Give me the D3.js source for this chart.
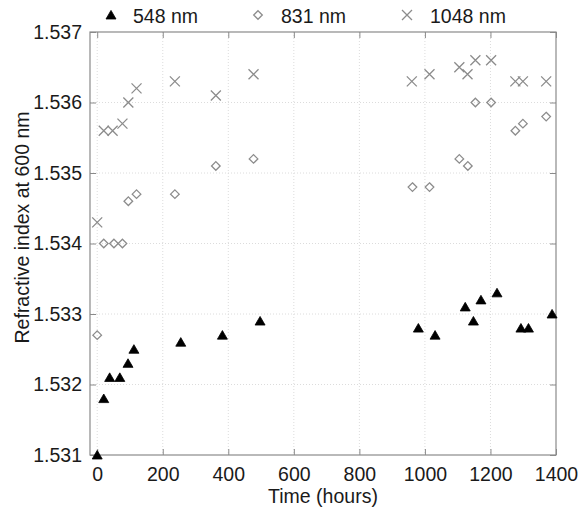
<!DOCTYPE html>
<html>
<head>
<meta charset="utf-8">
<script src="https://cdn.jsdelivr.net/npm/d3@7"></script>
<style>
  html, body { margin: 0; padding: 0; background: #fff; }
  svg { display: block; }
  text { font-family: "Liberation Sans", Arial, sans-serif; fill: #1a1a1a; }
</style>
</head>
<body>
<svg id="chart" width="584" height="514"></svg>
<script>
// Refractive index at 600 nm over time, for three writing wavelengths
const series548Time  = [0, 20, 38, 69, 94, 112, 255, 382, 497, 980, 1031, 1123, 1148, 1171, 1220, 1293, 1316, 1388];
const series548Value = [1.5310, 1.5318, 1.5321, 1.5321, 1.5323, 1.5325, 1.5326, 1.5327, 1.5329,
                        1.5328, 1.5327, 1.5331, 1.5329, 1.5332, 1.5333, 1.5328, 1.5328, 1.5330];

const series831Time  = [0, 20, 51, 77, 95, 120, 237, 362, 477, 962, 1014, 1105, 1131, 1154, 1202, 1276, 1299, 1370];
const series831Value = [1.5327, 1.5340, 1.5340, 1.5340, 1.5346, 1.5347, 1.5347, 1.5351, 1.5352,
                        1.5348, 1.5348, 1.5352, 1.5351, 1.5360, 1.5360, 1.5356, 1.5357, 1.5358];

const series1048Time  = [0, 20, 47, 77, 95, 120, 237, 362, 477, 960, 1014, 1105, 1130, 1154, 1202, 1276, 1299, 1370];
const series1048Value = [1.5343, 1.5356, 1.5356, 1.5357, 1.5360, 1.5362, 1.5363, 1.5361, 1.5364,
                         1.5363, 1.5364, 1.5365, 1.5364, 1.5366, 1.5366, 1.5363, 1.5363, 1.5363];

const legendLabels = ["548 nm", "831 nm", "1048 nm"];
const xTicks = [0, 200, 400, 600, 800, 1000, 1200, 1400];
const yTicks = [1.531, 1.532, 1.533, 1.534, 1.535, 1.536, 1.537];
const xTitle = "Time (hours)";
const yTitle = "Refractive index at 600 nm";

const svg = d3.select("#chart");
const plot = { left: 90, right: 556, top: 32, bottom: 455 };

const x = d3.scaleLinear().domain([-22, 1400]).range([plot.left, plot.right]);
const y = d3.scaleLinear().domain([1.531, 1.537]).range([plot.bottom, plot.top]);

const frameColor = "#8a8a8a";
const gridColor = "#dcdcdc";
const markerGray = "#8c8c8c";
const fontSize = 19.5;

// dotted grid
const grid = svg.append("g");
grid.selectAll("line.vx").data(xTicks.filter(d => x(d) < plot.right - 1)).join("line")
  .attr("x1", d => x(d)).attr("x2", d => x(d))
  .attr("y1", plot.top).attr("y2", plot.bottom)
  .attr("stroke", gridColor).attr("stroke-width", 1).attr("stroke-dasharray", "1,2");
grid.selectAll("line.hy").data(yTicks.filter(d => y(d) > plot.top + 1 && y(d) < plot.bottom - 1)).join("line")
  .attr("x1", plot.left).attr("x2", plot.right)
  .attr("y1", d => y(d)).attr("y2", d => y(d))
  .attr("stroke", gridColor).attr("stroke-width", 1).attr("stroke-dasharray", "1,2");

// axes with inward ticks on all four sides
const tickLen = 6;
const bottomAxis = d3.axisBottom(x).tickValues(xTicks).tickSize(-tickLen).tickPadding(12).tickFormat(d3.format("d"));
const topAxis = d3.axisTop(x).tickValues(xTicks).tickSize(-tickLen).tickFormat("");
const leftAxis = d3.axisLeft(y).tickValues(yTicks).tickSize(-tickLen).tickPadding(8).tickFormat(d3.format(".3f"));
const rightAxis = d3.axisRight(y).tickValues(yTicks).tickSize(-tickLen).tickFormat("");

function styleAxis(g) {
  g.select(".domain").remove();
  g.selectAll(".tick line").attr("stroke", frameColor).attr("stroke-width", 1);
  g.selectAll(".tick text").attr("font-size", fontSize).attr("fill", "#1a1a1a")
    .attr("font-family", "'Liberation Sans', Arial, sans-serif");
}

svg.append("g").attr("transform", `translate(0,${plot.bottom})`).call(bottomAxis).call(styleAxis);
svg.append("g").attr("transform", `translate(0,${plot.top})`).call(topAxis).call(styleAxis);
svg.append("g").attr("transform", `translate(${plot.left},0)`).call(leftAxis).call(styleAxis);
svg.append("g").attr("transform", `translate(${plot.right},0)`).call(rightAxis).call(styleAxis);

// frame
svg.append("rect")
  .attr("x", plot.left).attr("y", plot.top)
  .attr("width", plot.right - plot.left).attr("height", plot.bottom - plot.top)
  .attr("fill", "none").attr("stroke", frameColor).attr("stroke-width", 1.2);

// marker drawers
const triPath = "M0,-4.6L5,4L-5,4Z";
const diaPath = "M0,-4.3L4.3,0L0,4.3L-4.3,0Z";
const crossPath = "M-5,-5L5,5M-5,5L5,-5";

function drawTri(g, cx, cy) {
  g.append("path").attr("d", triPath).attr("transform", `translate(${cx},${cy})`)
    .attr("fill", "#000").attr("stroke", "#000").attr("stroke-width", 0.8);
}
function drawDia(g, cx, cy) {
  g.append("path").attr("d", diaPath).attr("transform", `translate(${cx},${cy})`)
    .attr("fill", "none").attr("stroke", markerGray).attr("stroke-width", 1.3);
}
function drawCross(g, cx, cy) {
  g.append("path").attr("d", crossPath).attr("transform", `translate(${cx},${cy})`)
    .attr("fill", "none").attr("stroke", markerGray).attr("stroke-width", 1.3);
}

const marks = svg.append("g");
series1048Time.forEach((t, i) => drawCross(marks, x(t), y(series1048Value[i])));
series831Time.forEach((t, i) => drawDia(marks, x(t), y(series831Value[i])));
series548Time.forEach((t, i) => drawTri(marks, x(t), y(series548Value[i])));

// legend across the top
const legend = svg.append("g");
const legendItems = [
  { mx: 111, tx: 133, draw: drawTri },
  { mx: 258, tx: 281, draw: drawDia },
  { mx: 407, tx: 430, draw: drawCross }
];
legendItems.forEach((item, i) => {
  item.draw(legend, item.mx, 15);
  legend.append("text").attr("x", item.tx).attr("y", 23)
    .attr("font-size", fontSize).text(legendLabels[i]);
});

// axis titles
svg.append("text")
  .attr("x", (plot.left + plot.right) / 2).attr("y", 503)
  .attr("text-anchor", "middle").attr("font-size", fontSize)
  .text(xTitle);
svg.append("text")
  .attr("transform", `translate(29,${(plot.top + plot.bottom) / 2 - 16}) rotate(-90)`)
  .attr("text-anchor", "middle").attr("font-size", fontSize)
  .text(yTitle);
</script>
</body>
</html>
